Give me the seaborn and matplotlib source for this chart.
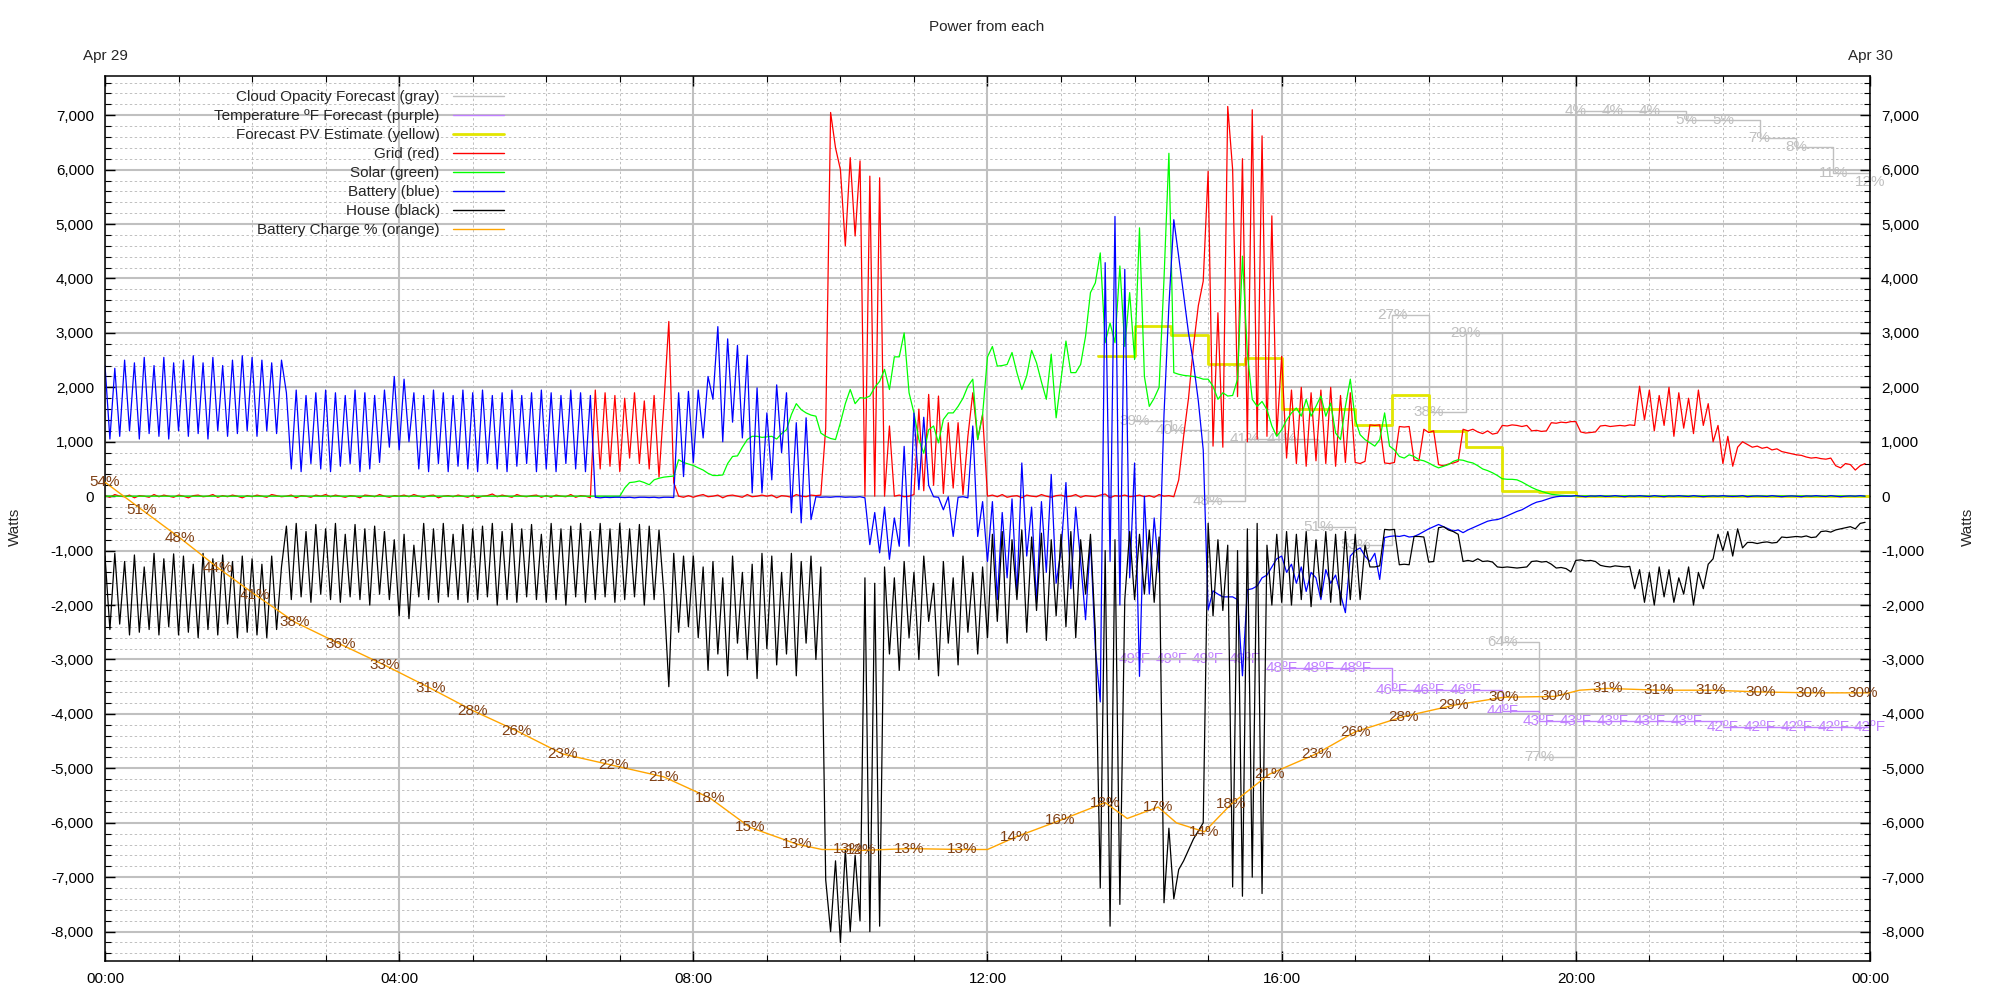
import numpy as np
import matplotlib
matplotlib.use("Agg")
import matplotlib.pyplot as plt
import matplotlib.ticker as mticker
from matplotlib.lines import Line2D
import seaborn as sns

# power readings every 4 minutes, 15 per hour, one row per hour
hours = np.arange(0, 24 * 60, 4) / 60

house = [
    -1100, -2450, -1050, -2350, -1200, -2550, -1080, -2500, -1300, -2450, -1050, -2550, -1150, -2400, -1060,
    -2550, -1100, -2500, -1250, -2600, -1050, -2450, -1150, -2550, -1080, -2350, -1200, -2600, -1100, -2500,
    -1150, -2550, -1250, -2600, -1100, -2450, -1300, -550, -1900, -500, -1850, -650, -1950, -520, -1800,
    -600, -1900, -500, -1950, -700, -1850, -520, -1900, -600, -2000, -550, -1800, -650, -1900, -800,
    -2200, -700, -2250, -900, -1850, -500, -1900, -600, -1950, -500, -1850, -700, -1900, -520, -1950,
    -600, -1900, -550, -1850, -500, -2000, -650, -1900, -500, -1950, -600, -1850, -520, -1900, -700,
    -1950, -500, -1900, -600, -2000, -550, -1850, -500, -1950, -650, -1900, -500, -1850, -600, -1950,
    -500, -1900, -600, -1850, -520, -2000, -550, -1900, -620, -1800, -3500, -1050, -2500, -1100, -2400,
    -1100, -2600, -1300, -3200, -1200, -2900, -1500, -3300, -1100, -2700, -1400, -3000, -1250, -3350, -1050,
    -2800, -1100, -3100, -1400, -2900, -1050, -3300, -1200, -2700, -1100, -3000, -1300, -7050, -8000, -6700,
    -8200, -6500, -8000, -6600, -7800, -1500, -8000, -1600, -7900, -1300, -2900, -1500, -3200, -1200, -2600,
    -1400, -3000, -1100, -2300, -1600, -3300, -1200, -2700, -1500, -3100, -1100, -2500, -1400, -2900, -1300,
    -2600, -700, -2300, -650, -2700, -800, -1900, -620, -2500, -750, -2100, -680, -2650, -800, -2200,
    -700, -2400, -650, -2600, -800, -1800, -700, -2500, -7200, -1000, -7900, -800, -7500, -1900, -650,
    -1900, -700, -1800, -620, -1950, -750, -7470, -6100, -7400, -6860, -6700, -6500, -6300, -6150, -6000,
    -500, -2200, -800, -2100, -900, -7180, -1000, -7350, -600, -7000, -500, -7300, -900, -2000, -700,
    -1950, -650, -2000, -700, -1900, -650, -2030, -800, -1850, -650, -1950, -700, -2000, -650, -1900,
    -700, -1900, -900, -1300, -1300, -1280, -610, -620, -610, -1260, -1250, -1260, -740, -740, -750,
    -1210, -1200, -580, -560, -620, -650, -700, -1200, -1180, -1200, -1150, -1200, -1190, -1210, -1300,
    -1310, -1300, -1310, -1320, -1310, -1300, -1200, -1190, -1210, -1200, -1250, -1320, -1310, -1330, -1390,
    -1180, -1170, -1190, -1180, -1200, -1270, -1290, -1300, -1280, -1290, -1300, -1290, -1700, -1350, -1950,
    -1400, -2000, -1300, -1850, -1350, -1950, -1500, -1800, -1300, -2000, -1400, -1700, -1250, -1150, -700,
    -1000, -650, -1100, -600, -950, -850, -850, -870, -850, -840, -860, -850, -750, -760, -750,
    -740, -750, -730, -760, -750, -650, -640, -660, -620, -600, -580, -560, -600, -500, -480,
]

battery = [
    2400, 1050, 2350, 1100, 2500, 1200, 2450, 1050, 2550, 1150, 2400, 1100, 2550, 1050, 2450,
    1200, 2500, 1100, 2580, 1150, 2450, 1050, 2550, 1200, 2400, 1100, 2500, 1150, 2580, 1200,
    2550, 1100, 2500, 1200, 2450, 1150, 2500, 1900, 500, 1950, 450, 1850, 600, 1900, 500,
    1950, 450, 1900, 550, 1850, 600, 1950, 450, 1900, 500, 1850, 620, 1950, 900, 2200,
    850, 2150, 1000, 1900, 500, 1850, 450, 1950, 600, 1900, 450, 1850, 550, 1950, 500,
    1900, 450, 1950, 600, 1850, 500, 1900, 450, 1950, 550, 1850, 600, 1900, 450, 1950,
    500, 1900, 450, 1850, 600, 1950, 500, 1900, 450, 1850, -20, -30, -20, -25, -20,
    -20, -25, -20, -30, -20, -20, -25, -20, -30, -20, -20, -25, 1900, 360, 1925,
    620, 1950, 1070, 2200, 1780, 3115, 1000, 2890, 1360, 2770, 1070, 2590, 60, 1990, 60,
    1530, 300, 2045, 800, 1900, -305, 1350, -490, 1440, -430, -10, -20, -15, -20, -10,
    -10, -20, -15, -20, -10, -30, -890, -300, -1040, -200, -1160, -400, -920, 915, -920,
    1530, 120, 1450, 200, -10, -20, -250, -10, -740, -20, -10, -30, 1290, -740, -100,
    -1200, -100, -1900, -300, -1500, -50, -1800, 610, -1100, -200, -1950, -100, -1400, 400, -1600,
    -1000, 250, -1700, -200, -1200, -2270, -800, -2800, -3780, 4290, -1200, 5140, -2000, 4170, -1500,
    610, -3310, 0, -1800, -400, -1400, 1500, 3500, 5080, 4400, 3700, 3000, 2450, 1750, 850,
    -2090, -1740, -1800, -1850, -1850, -1850, -1900, -3300, -1720, -1700, -1650, -1500, -1450, -1300, -1150,
    -1100, -1400, -1250, -1600, -1300, -1750, -1400, -1500, -1900, -1350, -1600, -1450, -1800, -2140, -1100,
    -1000, -950, -1100, -1200, -1050, -1530, -760, -740, -730, -740, -720, -750, -740, -700, -650,
    -600, -560, -520, -560, -600, -640, -620, -670, -620, -580, -540, -500, -460, -440, -430,
    -400, -360, -320, -280, -250, -200, -150, -110, -90, -60, -30, -10, 0, 0, 0,
    10, 0, -10, 5, 0, 10, -5, 0, 10, 0, -10, 5, 0, 10, 0,
    -5, 10, 0, -10, 5, 0, 10, 0, -5, 10, 0, -10, 0, 5, 0,
    10, 0, -5, 0, 10, -10, 0, 5, 0, -5, 10, 0, -10, 0, 5,
    0, -10, 5, 0, 10, 0, -5, 10, 0, -10, 0, 5, 0, 10, 0,
]

grid = [
    10, -20, 30, 0, -10, 20, -30, 10, 0, -20, 30, -10, 20, 0, -20,
    20, 0, -30, 10, 20, -10, 0, 30, -20, 10, -10, 20, 0, -30, 10,
    -10, 20, 0, -20, 30, 10, -10, 0, 20, -30, 10, 0, -20, 20, 0,
    30, -10, 20, 0, -20, 10, 0, -30, 20, 10, -10, 30, 0, -20, 10,
    0, 20, -10, 30, 0, -20, 10, 20, -30, 0, 10, -10, 20, 0, -20,
    20, -30, 0, 10, 40, -10, 20, 0, -20, 30, 0, -10, 10, 20, -20,
    10, -20, 20, 0, -10, 30, -20, 10, 0, -30, 1950, 500, 1900, 550, 1850,
    450, 1800, 700, 1900, 600, 1750, 500, 1850, 350, 1700, 3210, 250, 0, -20, 10,
    -20, 10, 30, -10, 0, 20, -30, 10, 20, 0, -20, 30, -10, 0, 20,
    0, 20, -30, 10, 0, -20, 30, 0, -10, 20, 10, 20, 1250, 7050, 6400,
    6000, 4600, 6220, 4780, 6160, 0, 5880, 0, 5850, 0, 1290, 0, 20, -10, 0,
    30, 1600, 100, 1870, 200, 1840, 50, 1350, 150, 1350, 30, 1100, 1900, 1040, 1500,
    0, 20, -10, 30, -20, 0, 10, -30, 20, 0, -10, 30, 0, -20, 10,
    20, -10, 0, 30, -20, 10, 0, -10, 20, 40, -30, 10, 0, 20, -10,
    0, 20, -10, 10, -20, 30, 0, 10, -10, 300, 1100, 1800, 2750, 3500, 3950,
    5970, 920, 3370, 900, 7160, 6000, 1830, 6200, 1000, 7100, 1050, 6620, 1100, 5150, 1120,
    2570, 700, 1950, 600, 2000, 550, 1900, 650, 1950, 600, 2000, 550, 1850, 620, 1900,
    620, 600, 640, 1310, 1300, 1310, 610, 600, 620, 1280, 1270, 1280, 660, 650, 1230,
    1170, 1200, 580, 560, 590, 610, 640, 1230, 1200, 1230, 1180, 1150, 1200, 1140, 1160,
    1300, 1290, 1310, 1300, 1280, 1300, 1200, 1210, 1190, 1200, 1350, 1340, 1360, 1350, 1370,
    1370, 1180, 1160, 1170, 1180, 1290, 1300, 1280, 1290, 1300, 1290, 1310, 1300, 2020, 1400,
    1950, 1200, 1850, 1300, 2000, 1100, 1900, 1250, 1800, 1150, 1950, 1300, 1700, 1000, 1300,
    600, 1100, 550, 900, 1000, 950, 900, 920, 880, 900, 850, 870, 820, 800, 780,
    760, 750, 720, 700, 710, 690, 680, 700, 560, 520, 600, 580, 480, 560, 600,
]

solar = [
    0, 0, 0, 0, 0, 0, 0, 0, 0, 0, 0, 0, 0, 0, 0,
    0, 0, 0, 0, 0, 0, 0, 0, 0, 0, 0, 0, 0, 0, 0,
    0, 0, 0, 0, 0, 0, 0, 0, 0, 0, 0, 0, 0, 0, 0,
    0, 0, 0, 0, 0, 0, 0, 0, 0, 0, 0, 0, 0, 0, 0,
    0, 0, 0, 0, 0, 0, 0, 0, 0, 0, 0, 0, 0, 0, 0,
    0, 0, 0, 0, 0, 0, 0, 0, 0, 0, 0, 0, 0, 0, 0,
    0, 0, 0, 0, 0, 0, 0, 0, 0, 0, 0, 0, 0, 0, 0,
    0, 150, 250, 260, 280, 250, 210, 300, 330, 350, 360, 370, 670, 620, 590,
    565, 520, 480, 420, 380, 380, 390, 600, 730, 740, 900, 1040, 1100, 1100, 1080,
    1090, 1100, 1050, 1150, 1220, 1500, 1700, 1590, 1530, 1490, 1470, 1160, 1100, 1060, 1040,
    1350, 1700, 1960, 1700, 1810, 1800, 1840, 2000, 2110, 2330, 1960, 2560, 2560, 3000, 1900,
    1530, 1040, 790, 1220, 1290, 980, 1410, 1530, 1530, 1650, 1800, 2020, 2150, 1040, 1500,
    2560, 2750, 2390, 2400, 2420, 2640, 2270, 1960, 2210, 2680, 2450, 2100, 1780, 2610, 1440,
    2150, 2850, 2270, 2270, 2420, 2940, 3740, 3920, 4470, 2820, 3180, 2820, 4230, 2750, 3740,
    2510, 4930, 2200, 1650, 1800, 2000, 3990, 6300, 2270, 2240, 2220, 2210, 2200, 2180, 2150,
    2150, 2020, 1780, 1900, 1840, 1850, 2150, 4410, 2630, 1780, 1650, 1740, 1590, 1290, 1100,
    1220, 1400, 1530, 1620, 1470, 1780, 1470, 1650, 1840, 1470, 1710, 1160, 1040, 1650, 2150,
    1410, 1130, 1040, 980, 920, 1040, 1530, 920, 850, 730, 700, 760, 730, 670, 650,
    610, 560, 520, 550, 580, 640, 670, 660, 630, 610, 560, 500, 470, 430, 380,
    320, 310, 310, 300, 260, 210, 160, 120, 90, 60, 35, 25, 15, 10, 5,
    5, 0, 5, 0, 5, 0, 5, 0, 5, 0, 5, 0, 5, 0, 5,
    0, 5, 0, 5, 0, 5, 0, 5, 0, 5, 0, 5, 0, 5, 0,
    5, 0, 5, 0, 5, 0, 5, 0, 5, 0, 5, 0, 5, 0, 5,
    0, 5, 0, 5, 0, 5, 0, 5, 0, 5, 0, 5, 0, 5, 0,
]

# half-hourly forecasts (step lines)
pv_h = [13.5, 14.0, 14.5, 15.0, 15.5, 16.0, 16.5, 17.0, 17.5, 18.0, 18.5,
        19.0, 19.5, 20.0, 20.5, 21.0, 21.5, 22.0, 22.5, 23.0, 23.5, 24.0]
pv_w = [2580, 3120, 2970, 2430, 2540, 1610, 1610, 1300, 1850, 1190, 900,
        100, 80, 10, 10, 10, 10, 10, 10, 10, 10, 10]

fc_h = [14.0, 14.5, 15.0, 15.5, 16.0, 16.5, 17.0, 17.5, 18.0, 18.5, 19.0,
        19.5, 20.0, 20.5, 21.0, 21.5, 22.0, 22.5, 23.0, 23.5, 24.0]
cloud_pct = [39, 40, 48, 41, 41, 51, 53, 27, 38, 29, 64,
             77, 4, 4, 4, 5, 5, 7, 8, 11, 12]
temp_f = [48.95, 48.95, 48.95, 48.95, 48.1, 48.1, 48.1, 46.0, 46.0, 46.0, 44.0,
          43.1, 43.1, 43.1, 43.1, 43.1, 42.45, 42.45, 42.45, 42.45, 42.45]

# battery state of charge
chg_h = [0.0, 0.5, 1.02, 1.54, 2.04, 2.58, 3.2, 3.81, 4.43, 5.0, 5.6, 6.22, 6.91, 7.6,
         8.23, 8.77, 9.41, 9.75, 10.1, 10.28, 10.94, 11.65, 12.0, 12.38, 12.99, 13.6,
         13.9, 14.32, 14.57, 14.95, 15.31, 15.83, 16.47, 17.0, 17.65, 18.34, 19.02,
         19.72, 20.05, 20.43, 21.13, 21.83, 22.52, 23.2, 23.9, 24.0]
chg_pct = [54.1, 51.0, 47.8, 44.4, 41.4, 38.3, 35.8, 33.4, 30.8, 28.3, 26.0, 23.4, 22.1, 20.8,
           18.4, 15.1, 13.2, 12.6, 12.6, 12.5, 12.7, 12.6, 12.6, 14.0, 15.9, 17.9,
           16.1, 17.4, 15.6, 14.6, 17.7, 21.1, 23.4, 25.9, 27.6, 28.9, 29.8,
           29.9, 30.6, 30.8, 30.6, 30.6, 30.4, 30.3, 30.3, 30.3]
chg_text = ["54%", "51%", "48%", "44%", "41%", "38%", "36%", "33%", "31%", "28%", "26%", "23%", "22%", "21%",
            "18%", "15%", "13%", "", "13%", "12%", "13%", "13%", "", "14%", "16%", "18%",
            "", "17%", "", "14%", "18%", "21%", "23%", "26%", "28%", "29%", "30%",
            "30%", "", "31%", "31%", "31%", "30%", "30%", "30%", ""]

for s in (house, battery, grid, solar):
    assert len(s) == len(hours)

sns.set_style("ticks")
plt.rcParams["font.family"] = ["Liberation Sans", "DejaVu Sans"]
plt.rcParams["axes.unicode_minus"] = False

FS = 11
C_CLOUD = "#c0c0c0"
C_TEMP = "#c080ff"
C_PV = "#e2e600"
C_CHG_TXT = "#804014"

fig = plt.figure(figsize=(20, 10), dpi=100)
ax = fig.add_axes([0.0525, 0.039, 0.8825, 0.885])
ax_cloud = ax.twinx()
ax_temp = ax.twinx()
ax_chg = ax.twinx()
for a in (ax, ax_cloud, ax_temp, ax_chg):
    a.set_position([0.0525, 0.039, 0.8825, 0.885])
    a.patch.set_visible(False)
ax_cloud.set_zorder(0)
ax_temp.set_zorder(0.5)
ax.set_zorder(1)
ax_chg.set_zorder(2)

# forecasts on their own hidden scales
sns.lineplot(x=fc_h, y=cloud_pct, ax=ax_cloud, color=C_CLOUD, linewidth=1,
             drawstyle="steps-post", legend=False, errorbar=None)
for h, v in zip(fc_h, cloud_pct):
    ax_cloud.text(h, v, f"{v}%", color=C_CLOUD, fontsize=FS, ha="center", va="center")
ax_cloud.set_ylim(100, 0)

sns.lineplot(x=fc_h, y=temp_f, ax=ax_temp, color=C_TEMP, linewidth=1,
             drawstyle="steps-post", legend=False, errorbar=None)
for h, v in zip(fc_h, temp_f):
    ax_temp.text(h, v, f"{round(v)}ºF", color=C_TEMP, fontsize=FS, ha="center", va="center")
ax_temp.set_ylim(20.2, 104.5)

sns.lineplot(x=pv_h, y=pv_w, ax=ax, color=C_PV, linewidth=2,
             drawstyle="steps-post", legend=False, errorbar=None)

# measured power
sns.lineplot(x=hours, y=grid, ax=ax, color="#ff0000", linewidth=0.9, legend=False, errorbar=None)
sns.lineplot(x=hours, y=solar, ax=ax, color="#00ff00", linewidth=0.9, legend=False, errorbar=None)
sns.lineplot(x=hours, y=battery, ax=ax, color="#0000ff", linewidth=0.9, legend=False, errorbar=None)
sns.lineplot(x=hours, y=house, ax=ax, color="#000000", linewidth=0.9, legend=False, errorbar=None)

sns.lineplot(x=chg_h, y=chg_pct, ax=ax_chg, color="#ffa500", linewidth=1, legend=False,
             errorbar=None, sort=False)
for h, v, t in zip(chg_h, chg_pct, chg_text):
    if t:
        ax_chg.text(h, v, t, color=C_CHG_TXT, fontsize=FS, ha="center", va="center")
ax_chg.set_ylim(0, 100)

for a in (ax_cloud, ax_temp, ax_chg):
    a.axis("off")

ax.set_xlim(0, 24)
ax.set_ylim(-8540, 7720)
ax.xaxis.set_major_locator(mticker.MultipleLocator(4))
ax.xaxis.set_minor_locator(mticker.MultipleLocator(1))
ax.yaxis.set_major_locator(mticker.MultipleLocator(1000))
ax.yaxis.set_minor_locator(mticker.MultipleLocator(200))
ax.xaxis.set_major_formatter(mticker.FuncFormatter(lambda v, p: f"{int(round(v)) % 24:02d}:00"))
ax.yaxis.set_major_formatter(mticker.FuncFormatter(lambda v, p: f"{int(round(v)):,}"))

ax.grid(which="major", color="#c0c0c0", linewidth=1.5, linestyle="-")
ax.grid(which="minor", color="#c0c0c0", linewidth=0.7, linestyle=(0, (2.5, 2.5)))
ax.set_axisbelow(True)

ax.tick_params(axis="both", which="both", direction="in", colors="black",
               top=True, bottom=True, left=True, right=True,
               labelleft=True, labelright=True, labelsize=FS)
ax.tick_params(axis="both", which="major", length=7, width=1, pad=8)
ax.tick_params(axis="both", which="minor", length=4, width=0.8)
for sp in ax.spines.values():
    sp.set_visible(True)
    sp.set_color("black")
    sp.set_linewidth(1.1)

top = ax.secondary_xaxis("top")
top.set_xticks([0, 24], labels=["Apr 29", "Apr 30"])
top.tick_params(length=0, pad=9, labelsize=FS)
top.spines["top"].set_visible(False)

ax.set_xlabel("")
ax.set_ylabel("Watts", fontsize=FS)
ax.yaxis.set_label_coords(-0.047, 0.49)
fig.text(0.984, 0.473, "Watts", rotation=90, fontsize=FS, ha="center", va="center")
fig.text(0.4935, 0.973, "Power from each", fontsize=FS, ha="center", va="center")

legend_labels = ["Cloud Opacity Forecast (gray)", "Temperature ºF Forecast (purple)",
                 "Forecast PV Estimate (yellow)", "Grid (red)", "Solar (green)",
                 "Battery (blue)", "House (black)", "Battery Charge % (orange)"]
legend_colors = [C_CLOUD, C_TEMP, C_PV, "#ff0000", "#00ff00", "#0000ff", "#000000", "#ffa500"]
legend_widths = [1, 1, 2, 1, 1, 1, 1, 1]
handles = [Line2D([], [], color=c, linewidth=w) for c, w in zip(legend_colors, legend_widths)]
ax_chg.legend(handles, legend_labels, loc="upper right", bbox_to_anchor=(0.226, 0.984),
              markerfirst=False, frameon=False, handlelength=3.3, handletextpad=0.9,
              labelspacing=0.33, borderaxespad=0, borderpad=0, fontsize=FS)

fig.savefig("out.png", dpi=100)
